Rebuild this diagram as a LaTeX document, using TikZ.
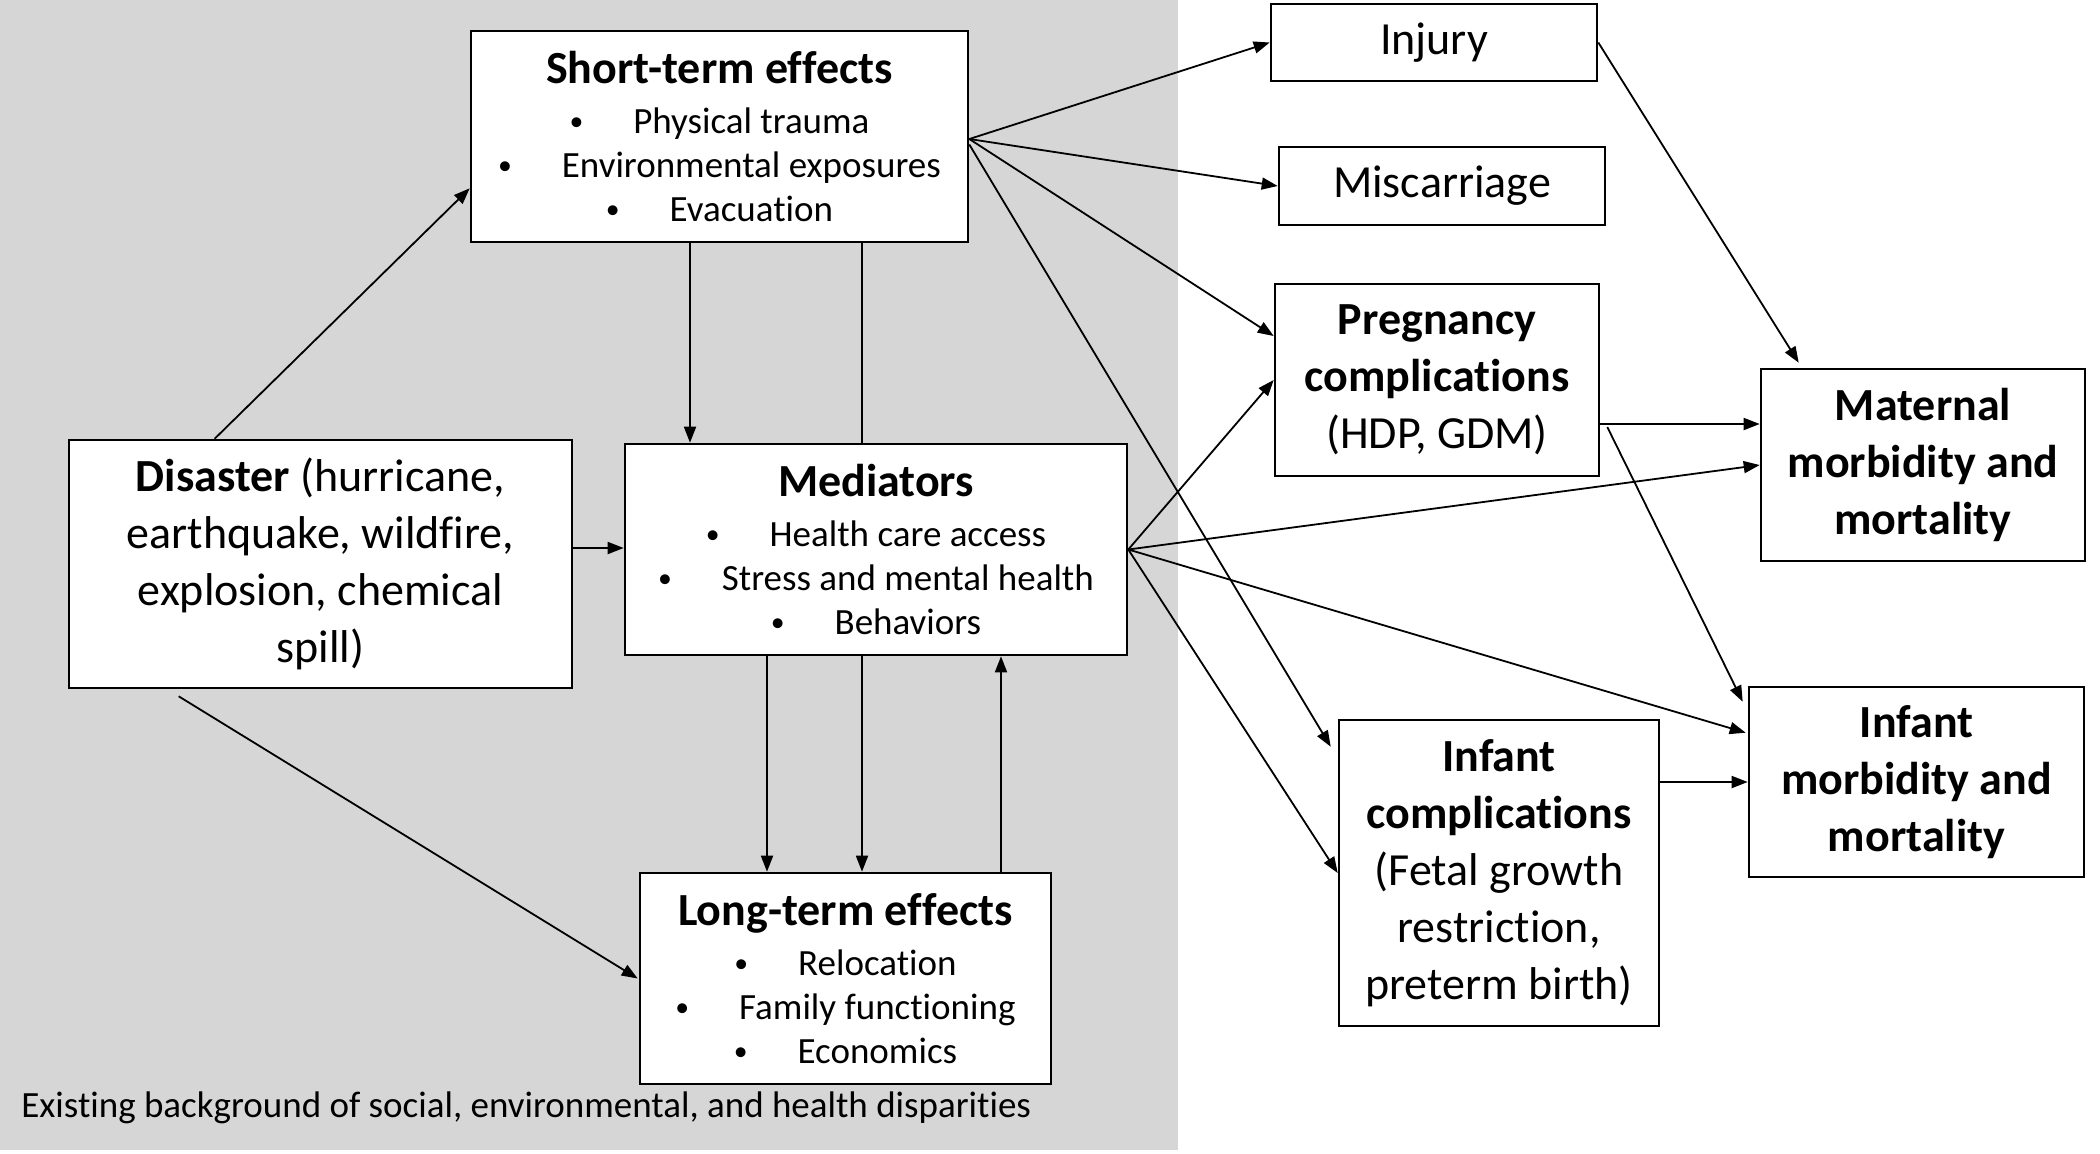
\documentclass[tikz,border=0pt]{standalone}
\usepackage{fontspec}
\setmainfont{Carlito}[Ligatures=NoCommon]
\usetikzlibrary{calc,arrows.meta}

\definecolor{bggrey}{RGB}{214,214,214}
\newcommand{\bigtxt}{\fontsize{23}{28.5}\selectfont}
\newcommand{\smalltxt}{\fontsize{18.5}{22}\selectfont}
\newcommand{\itm}[1]{\raisebox{0.15ex}{\scalebox{0.75}{\textbullet}}\hspace{1.35em}#1}

\tikzset{
  box/.style={draw, fill=white, line width=1.3pt, align=center, inner sep=0pt},
  arr/.style={-{Triangle[length=8pt,width=6pt]}, line width=0.9pt},
  plain/.style={line width=0.9pt}
}

\begin{document}
\begin{tikzpicture}[x=0.5pt,y=0.5pt,yscale=-1,xscale=1]
\useasboundingbox (0,0) rectangle (2100,1153);
%background of disparities
\fill[bggrey] (0,0) rectangle (1178,1150);

% Text Node
\node[box, minimum width=248.5pt, minimum height=105.5pt, font=\smalltxt] (st) at (719.5,136.5) {{\bigtxt\bfseries Short-term effects}\\[3pt] \itm{Physical trauma}\\ \itm{Environmental exposures}\\ \itm{Evacuation}};
% Text Node
\node[box, minimum width=251.5pt, minimum height=124pt, font=\bigtxt] (dis) at (320.5,564) {\textbf{Disaster} (hurricane,\\ earthquake, wildfire,\\ explosion, chemical\\ spill)};
% Text Node
\node[box, minimum width=251pt, minimum height=105.5pt, font=\smalltxt] (med) at (876,549.5) {{\bigtxt\bfseries Mediators}\\[3pt] \itm{Health care access}\\ \itm{Stress and mental health}\\ \itm{Behaviors}};
% Text Node
\node[box, minimum width=205.5pt, minimum height=105.5pt, font=\smalltxt] (lt) at (845.5,978.5) {{\bigtxt\bfseries Long-term effects}\\[3pt] \itm{Relocation}\\ \itm{Family functioning}\\ \itm{Economics}};
% Text Node
\node[box, minimum width=163pt, minimum height=38.5pt, font=\bigtxt] (inj) at (1434,42.5) {Injury};
% Text Node
\node[box, minimum width=163pt, minimum height=39pt, font=\bigtxt] (mis) at (1442,186) {Miscarriage};
% Text Node
\node[box, minimum width=162pt, minimum height=96pt, font=\bigtxt] (preg) at (1437,380) {\textbf{Pregnancy}\\ \textbf{complications}\\ (HDP, GDM)};
% Text Node
\node[box, minimum width=162pt, minimum height=96pt, font=\bigtxt] (mat) at (1923,465) {\textbf{Maternal}\\ \textbf{morbidity and}\\ \textbf{mortality}};
% Text Node
\node[box, minimum width=160pt, minimum height=153pt, font=\bigtxt] (icomp) at (1499,873) {\textbf{Infant}\\ \textbf{complications}\\ (Fetal growth\\ restriction,\\ preterm birth)};
% Text Node
\node[box, minimum width=167.5pt, minimum height=95pt, font=\bigtxt] (imort) at (1916.5,782) {\textbf{Infant}\\ \textbf{morbidity and}\\ \textbf{mortality}};
% Text Node
\node[anchor=west, inner sep=0pt, font=\fontsize{18.5}{22}\selectfont] (bgtxt) at (21,1108) {Existing background of social, environmental, and health disparities};

%Straight Lines
\draw[arr] ($(dis.north west)+(147,0)$) -- ($(st.south west)+(0,-55)$);
\draw[arr] ($(dis.east)+(0,-16)$) coordinate (dm) -- (dm -| med.west);
\draw[arr] ($(dis.south west)+(111,7)$) -- ($(lt.west)+(-1,0)$);
%Straight Lines
\draw[arr] ($(st.south)+(-29.5,0)$) coordinate (sm) -- (sm |- med.north);
\draw[plain] ($(st.south)+(142.5,0)$) coordinate (sm2) -- (sm2 |- med.north);
\draw[arr] ($(med.south)+(-109,0)$) coordinate (ml1) -- (ml1 |- lt.north);
\draw[arr] ($(med.south)+(-14,0)$) coordinate (ml2) -- (ml2 |- lt.north);
\draw[arr] ($(lt.north)+(155.5,0)$) coordinate (lm) -- (lm |- med.south);
%Straight Lines
\draw[arr] ($(st.east)+(0,2.5)$) -- (inj.west);
\draw[arr] ($(st.east)+(0,2.5)$) -- (mis.west);
\draw[arr] ($(st.east)+(0,2.5)$) -- ($(preg.west)+(0,-44)$);
\draw[arr] ($(st.east)+(0,8)$) -- ($(icomp.north west)+(-7,28)$);
%Straight Lines
\draw[arr] (med.east) -- (preg.west);
\draw[arr] (med.east) -- (mat.west);
\draw[arr] (med.east) -- ($(imort.north west)+(-2,47)$);
\draw[arr] (med.east) -- (icomp.west);
%Straight Lines
\draw[arr] (inj.east) -- ($(mat.north west)+(39,-5)$);
\draw[arr] ($(preg.east)+(0,44)$) coordinate (pm) -- (pm -| mat.west);
\draw[arr] ($(preg.east)+(7,47)$) -- ($(imort.north west)+(-5,16)$);
\draw[arr] (imort.west -| icomp.east) -- (imort.west);

\end{tikzpicture}
\end{document}
